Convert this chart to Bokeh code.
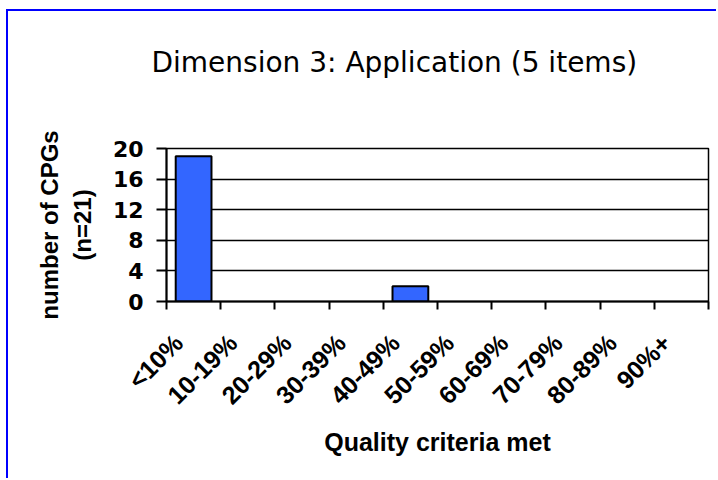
import math
from bokeh.plotting import figure
from bokeh.models import FixedTicker, Range1d, Title
from bokeh.embed import file_html
from bokeh.resources import INLINE

# ---- data ----
categories = ["<10%", "10-19%", "20-29%", "30-39%", "40-49%",
              "50-59%", "60-69%", "70-79%", "80-89%", "90%+"]
counts = [19, 0, 0, 0, 2, 0, 0, 0, 0, 0]
y_ticks = [0, 4, 8, 12, 16, 20]
title_text = "Dimension 3: Application (5 items)"
x_title = "Quality criteria met"
y_title = "number of CPGs\n(n=21)"

centers = [i + 0.5 for i in range(len(categories))]
label_pos = [i + 0.22 for i in range(len(categories))]
bounds = list(range(len(categories) + 1))
bar_x = [c for c, v in zip(centers, counts) if v > 0]
bar_top = [v for v in counts if v > 0]

W, H = 710, 469
FL, FT, FR, FB = 158, 137, 700, 290   # frame edges in canvas pixels
p = figure(width=W, height=H, output_backend="svg", toolbar_location=None,
           x_range=Range1d(0, len(categories)), y_range=Range1d(0, max(y_ticks)),
           min_border_left=FL, min_border_top=FT, min_border_right=W - FR,
           min_border_bottom=H - FB)
p.styles = {"border-top": "2px solid #0000ff", "border-left": "2px solid #0000ff",
            "margin-left": "6px", "margin-top": "9px"}
p.background_fill_color = "white"
p.border_fill_color = "white"
p.outline_line_color = "black"
p.outline_line_width = 1.5

p.vbar(x=bar_x, top=bar_top, width=0.66, fill_color="#3366ff",
       line_color="black", line_width=2)

# x axis
xa = p.xaxis[0]
xa.ticker = FixedTicker(ticks=label_pos, minor_ticks=bounds)
xa.major_label_overrides = {c: lab for c, lab in zip(label_pos, categories)}
xa.major_tick_out = 0
xa.major_tick_in = 0
xa.minor_tick_out = 8
xa.minor_tick_in = 0
xa.minor_tick_line_color = "black"
xa.minor_tick_line_width = 2
xa.axis_line_width = 2
xa.axis_line_color = "black"
xa.major_label_orientation = math.pi / 4
xa.major_label_text_font = "Liberation Sans"
xa.major_label_text_font_style = "bold"
xa.major_label_text_font_size = "25px"
xa.major_label_text_color = "black"
xa.major_label_standoff = 29
xa.axis_label = x_title
xa.axis_label_text_font = "Liberation Sans"
xa.axis_label_text_font_style = "bold"
xa.axis_label_text_font_size = "25px"
xa.axis_label_text_color = "black"
xa.axis_label_standoff = 6

# y axis
ya = p.yaxis[0]
ya.ticker = FixedTicker(ticks=y_ticks, minor_ticks=[])
ya.major_tick_out = 10
ya.major_tick_in = 0
ya.major_tick_line_width = 2
ya.major_tick_line_color = "black"
ya.axis_line_width = 2
ya.axis_line_color = "black"
ya.major_label_text_font = "DejaVu Sans"
ya.major_label_text_font_style = "bold"
ya.major_label_text_font_size = "22px"
ya.major_label_text_color = "black"
ya.major_label_standoff = 13
ya.axis_label = y_title
ya.axis_label_text_font = "Liberation Sans"
ya.axis_label_text_font_style = "bold"
ya.axis_label_text_font_size = "24px"
ya.axis_label_text_color = "black"
ya.axis_label_standoff = 14

p.xgrid.grid_line_color = None
p.ygrid.grid_line_color = "black"
p.ygrid.grid_line_width = 1.5
p.ygrid.ticker = FixedTicker(ticks=y_ticks)

# spacer panel next to the frame, then the title above it
p.add_layout(Title(text=" ", text_font_size="10px", standoff=52,
                   text_color="white"), "above")
p.add_layout(Title(text=title_text, align="left", offset=-15,
                   text_font="DejaVu Sans", text_font_size="28px",
                   text_font_style="normal", text_color="black"), "above")

open("out.html", "w").write(file_html(p, INLINE))
